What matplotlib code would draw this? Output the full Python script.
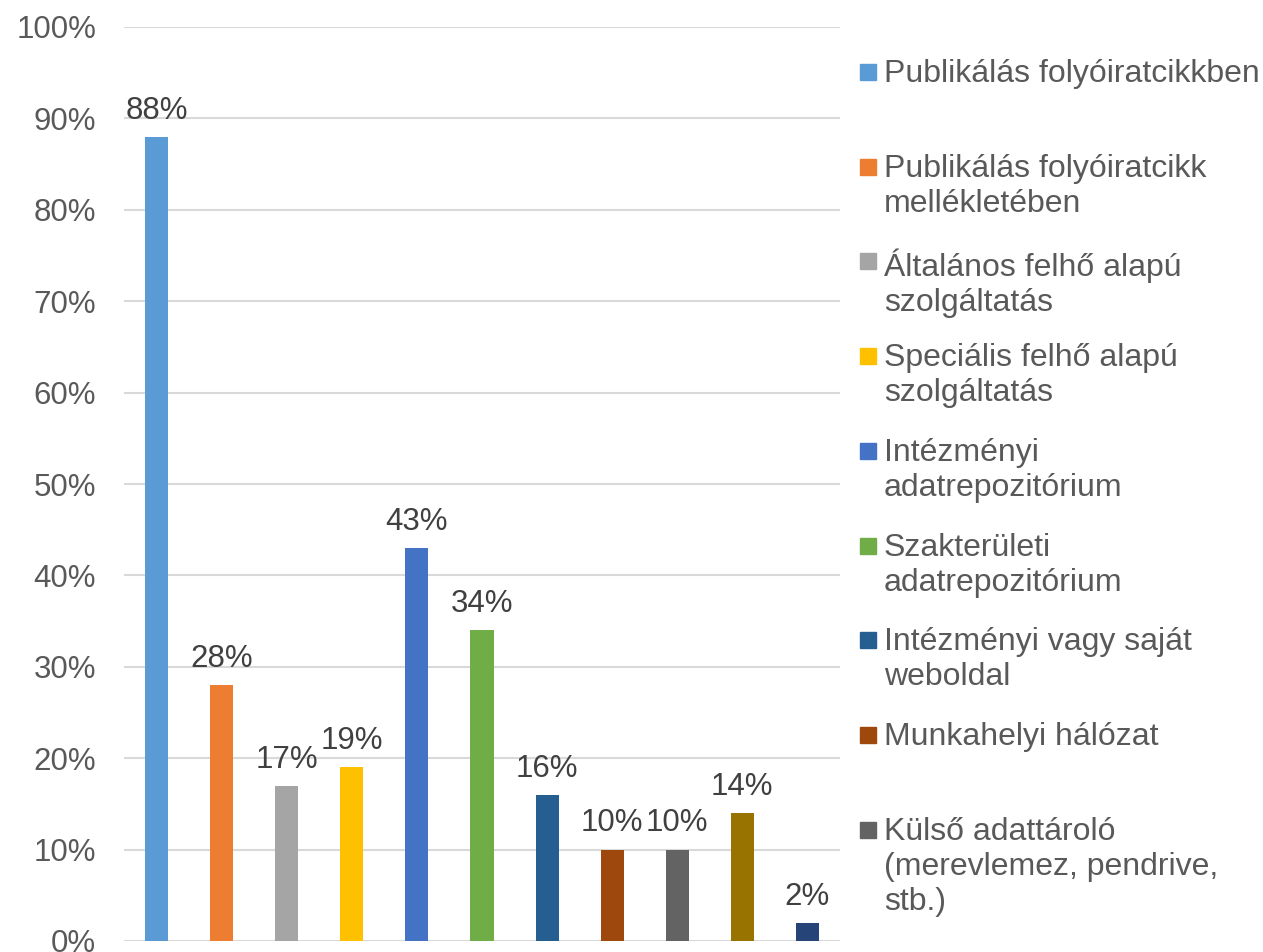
import numpy as np
import matplotlib.pyplot as plt
from matplotlib.patches import Rectangle
from matplotlib.ticker import PercentFormatter

plt.rcParams['font.family'] = ['Liberation Sans', 'DejaVu Sans']

# Data
values = [88, 28, 17, 19, 43, 34, 16, 10, 10, 14, 2]
colors = ['#5B9BD5', '#ED7D31', '#A5A5A5', '#FFC000', '#4472C4', '#70AD47',
          '#255E91', '#9E480E', '#636363', '#997300', '#264478']
legend_labels = [
    'Publikálás folyóiratcikkben',
    'Publikálás folyóiratcikk\nmellékletében',
    'Általános felhő alapú\nszolgáltatás',
    'Speciális felhő alapú\nszolgáltatás',
    'Intézményi\nadatrepozitórium',
    'Szakterületi\nadatrepozitórium',
    'Intézményi vagy saját\nweboldal',
    'Munkahelyi hálózat',
    'Külső adattároló\n(merevlemez, pendrive,\nstb.)',
]

W, H = 1263, 952
fig = plt.figure(figsize=(W / 100, H / 100), dpi=100)
ax = fig.add_axes([124 / W, 11 / H, 716 / W, 914 / H])

x = np.arange(len(values))
vals = np.array(values) / 100
bars = ax.bar(x, vals, width=0.355, color=colors, zorder=3)

for xi, v in zip(x, vals):
    ax.annotate(f'{round(v * 100)}%', (xi, v), xytext=(0, 8), textcoords='offset points',
                ha='center', va='bottom', fontsize=22.5, color='#404040')

ax.set_xlim(-0.5, len(values) - 0.5)
ax.set_ylim(0, 1.0)
ax.set_yticks(np.arange(0, 1.01, 0.1))
ax.yaxis.set_major_formatter(PercentFormatter(1.0, decimals=0))
ax.set_xticks([])
ax.tick_params(axis='y', length=0, pad=20, labelsize=22.5, labelcolor='#595959')
ax.grid(axis='y', color='#D9D9D9', linewidth=1.5, zorder=0)
for s in ax.spines.values():
    s.set_visible(False)

# Legend drawn by hand (uniform pitch, first text line level with the marker)
y0, pitch = 72, 94.7
for i, lab in enumerate(legend_labels):
    yc = y0 + pitch * i
    fig.patches.append(Rectangle((860 / W, 1 - (yc + 8) / H), 16 / W, 16 / H,
                                 transform=fig.transFigure, color=colors[i]))
    fig.text(884 / W, 1 - (yc - 13) / H, lab, ha='left', va='top',
             fontsize=23, color='#595959', linespacing=1.23)

fig.savefig('out.png', dpi=100)
